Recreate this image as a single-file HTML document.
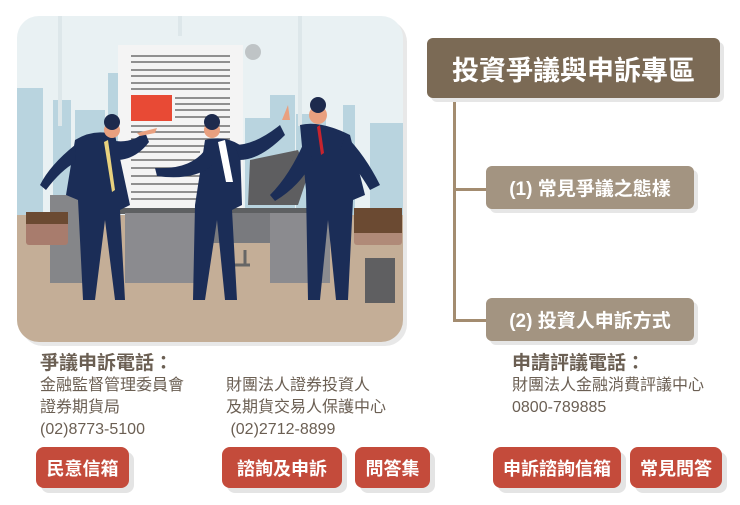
<!DOCTYPE html>
<html><head><meta charset="utf-8"><style>
body{margin:0;width:740px;height:505px;background:#fff;position:relative;overflow:hidden;font-family:"Liberation Sans","Noto Sans CJK TC",sans-serif}
.a{position:absolute}
.btn{position:absolute;background:#c44b3b;color:#fff;font-size:18px;font-weight:bold;border-radius:8px;box-shadow:5px 5px 0 #e4e4e4;display:flex;align-items:center;justify-content:center;height:41px;top:447px}
.box{position:absolute;color:#fff;display:flex;align-items:center;justify-content:center;border-radius:6px;box-shadow:4px 4px 0 #e6e6e6}
.t{position:absolute;color:#6b5f53;font-size:16px;line-height:22px;white-space:nowrap}
</style></head><body>
<svg class="a" style="left:0;top:0" width="420" height="350">
<defs><clipPath id="c"><rect x="17" y="16" width="386" height="326" rx="22"/></clipPath></defs>
<rect x="21" y="20" width="386" height="326" rx="22" fill="#e8e8e8"/>
<g clip-path="url(#c)">
<rect x="17" y="16" width="386" height="330" fill="#e9f1f3"/>
<g fill="#b9d4df"><rect x="17" y="88" width="26" height="140"/><rect x="53" y="100" width="18" height="130"/><rect x="75" y="110" width="30" height="120"/><rect x="108" y="73" width="12" height="150"/><rect x="245" y="118" width="30" height="110"/><rect x="270" y="95" width="25" height="130"/><rect x="296" y="114" width="30" height="110"/><rect x="343" y="105" width="12" height="120"/><rect x="370" y="123" width="33" height="100"/></g>
<g fill="#dde7ea"><rect x="58" y="16" width="4" height="110"/><rect x="178" y="16" width="4" height="20"/><rect x="298" y="16" width="4" height="110"/></g>
<rect x="17" y="215" width="386" height="130" fill="#c4ae97"/>
<rect x="118" y="45" width="125" height="165" fill="#f4f4f4"/>
<rect x="245" y="44" width="16" height="16" rx="8" fill="#bfc4c6"/>
<g stroke="#555" stroke-width="1.3">
<path d="M131 56H230M131 62H230M131 70H230M131 76H230M131 83H230M131 89H230M175 98H230M175 104H230M175 110H230M175 117H230M131 126H230M131 132H230M131 139H230M131 146H230M131 152H200M131 160H200M131 168H200M131 176H200M131 184H200M131 192H200M131 199H200"/></g>
<rect x="131" y="95" width="41" height="26" fill="#e84a35"/>
<path d="M250 160l48 -10l10 25l-10 30h-50z" fill="#5e5e60"/>
<rect x="118" y="208" width="215" height="6" fill="#5e6062"/>
<rect x="125" y="213" width="70" height="70" fill="#8b8b8f"/>
<rect x="195" y="213" width="80" height="30" fill="#797a7e"/>
<rect x="270" y="213" width="60" height="70" fill="#8b8b8f"/>
<rect x="50" y="195" width="45" height="88" fill="#858689"/>
<rect x="365" y="258" width="30" height="45" fill="#5f5f61"/>
<path d="M230 265l20 0M245 250v15" stroke="#666" stroke-width="3"/>
<g fill="#1b2d57">
<path d="M75 140q20 -12 40 -5l15 70l-10 5l5 90h-10l-10 -80l-10 80h-12l-5 -100l-12 -5z"/>
<path d="M75 145q-25 20 -35 40l6 5q15 -20 30 -28z"/>
<path d="M110 140q20 5 35 -8l4 10q-15 20 -38 18z"/>
<path d="M205 140q20 -5 35 5l2 60l-10 5l5 90h-12l-8 -80l-12 80h-12l2 -95z"/>
<path d="M235 145q20 0 45 -20l5 10q-25 25 -45 25z"/>
<path d="M205 150q-15 20 -50 18l2 8q35 5 55 -10z"/>
<path d="M300 125q20 -5 50 10l15 60l-12 5l-5 100h-12l-8 -80l-8 80h-12l-2 -110z"/>
<path d="M345 135q20 20 35 50l-10 5q-15 -25 -30 -40z"/>
<path d="M305 140q-15 35 -35 55l5 6q25 -15 38 -40z"/>
</g>
<path d="M108 140l7 50l-3 2l-8 -50z" fill="#e9d27e"/>
<path d="M218 142l8 40h7l-8 -42z" fill="#fff"/>
<path d="M320 125l4 28l-3 2l-4 -28z" fill="#c7242e"/>
<g fill="#e9a07f"><circle cx="112" cy="130" r="8"/><circle cx="212" cy="130" r="8"/><circle cx="318" cy="115" r="9"/><path d="M137 133l20 -5l-2 5l-15 3z"/><path d="M282 120l6 -15l2 15z"/></g>
<g fill="#1d2a4d"><circle cx="112" cy="122" r="8"/><circle cx="212" cy="122" r="8"/><circle cx="318" cy="105" r="8"/></g>
<rect x="26" y="212" width="42" height="33" rx="3" fill="#a87c6d"/><rect x="26" y="212" width="42" height="12" fill="#6b4a32"/>
<rect x="354" y="208" width="48" height="37" rx="3" fill="#b08a78"/><rect x="354" y="208" width="48" height="25" fill="#6b4a32"/>
</g>
</svg>
<div class="a" style="left:453px;top:96px;width:3px;height:225px;background:#a38c70"></div>
<div class="a" style="left:453px;top:188px;width:35px;height:3px;background:#a38c70"></div>
<div class="a" style="left:453px;top:319px;width:35px;height:3px;background:#a38c70"></div>
<div class="box" style="left:427px;top:38px;width:293px;height:60px;background:#7b6a55;font-size:27px;font-weight:bold">投資爭議與申訴專區</div>
<div class="box" style="left:486px;top:166px;width:208px;height:43px;background:#a39481;font-size:19px;font-weight:bold">(1) 常見爭議之態樣</div>
<div class="box" style="left:486px;top:298px;width:208px;height:43px;background:#a39481;font-size:19px;font-weight:bold">(2) 投資人申訴方式</div>
<div class="t" style="left:40px;top:353px;font-size:19px;font-weight:bold">爭議申訴電話：</div>
<div class="t" style="left:40px;top:375px">金融監督管理委員會<br>證券期貨局<br>(02)8773-5100</div>
<div class="t" style="left:226px;top:375px">財團法人證券投資人<br>及期貨交易人保護中心<br>&nbsp;(02)2712-8899</div>
<div class="t" style="left:512px;top:353px;font-size:19px;font-weight:bold">申請評議電話：</div>
<div class="t" style="left:512px;top:375px">財團法人金融消費評議中心<br>0800-789885</div>
<div class="btn" style="left:36px;width:93px">民意信箱</div>
<div class="btn" style="left:222px;width:120px">諮詢及申訴</div>
<div class="btn" style="left:355px;width:75px">問答集</div>
<div class="btn" style="left:493px;width:128px">申訴諮詢信箱</div>
<div class="btn" style="left:630px;width:92px">常見問答</div>
</body></html>
